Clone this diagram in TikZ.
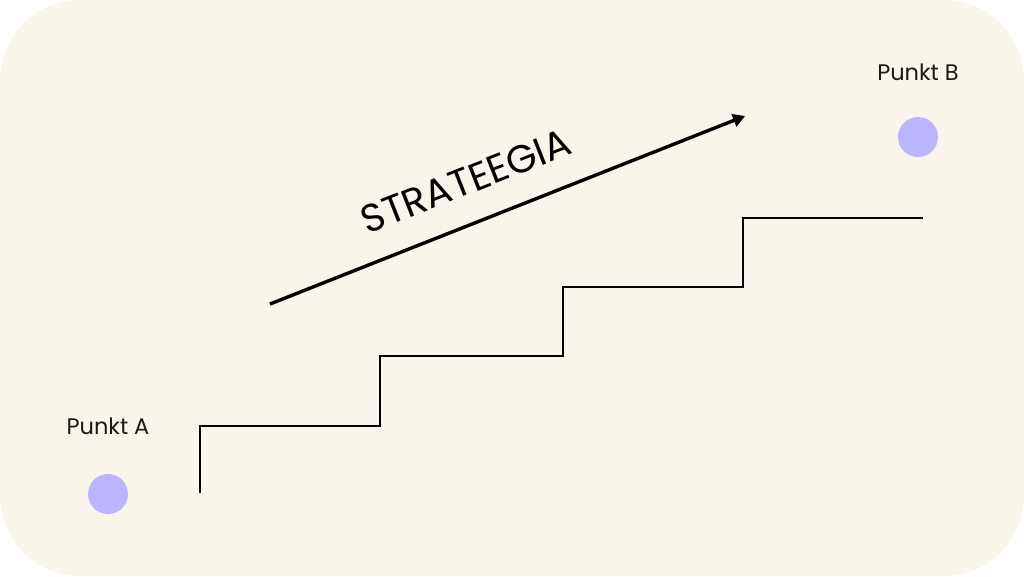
\documentclass[tikz,border=0pt]{standalone}
\usepackage{fontspec}
\setmainfont{Poppins}
\usetikzlibrary{arrows.meta}
\definecolor{bg}{HTML}{F9F5EA}
\definecolor{dot}{HTML}{BBB5FF}
\begin{document}
\begin{tikzpicture}[x=1pt,y=-1pt,
  stair/.style={line width=2.8pt,black,line join=miter},
  arrowline/.style={line width=3.4pt,black,-{Triangle[length=12pt,width=13pt]}},
  label/.style={font=\fontsize{22.5}{26}\selectfont,text=black!90,inner sep=0pt},
  spot/.style={circle,fill=dot,minimum size=40pt,inner sep=0pt}]
\useasboundingbox (0,0) rectangle (1024,576);
\fill[white] (0,0) rectangle (1024,576);
\fill[bg,rounded corners=80pt] (0,0) rectangle (1024,576);
% stairs
\coordinate (s0) at (200,493);
\coordinate (s8) at (923,218);
\draw[stair] (s0) -- (200,426) -- (380,426) -- (380,356) -- (563,356) -- (563,287) -- (743,287) -- (743,218) -- (s8);
% arrow
\coordinate (a0) at (270,304);
\coordinate (a1) at (745,116);
\draw[arrowline] (a0) -- (a1);
\node[font=\fontsize{39}{42}\selectfont,rotate=21.4,inner sep=0pt] (strat) at (466,181) {STRATEEGIA};
% points
\node[label] (la) at (108,426) {Punkt A};
\node[spot] (pa) at (108,494) {};
\node[label] (lb) at (918,72) {Punkt B};
\node[spot] (pb) at (918,137) {};
\end{tikzpicture}
\end{document}
